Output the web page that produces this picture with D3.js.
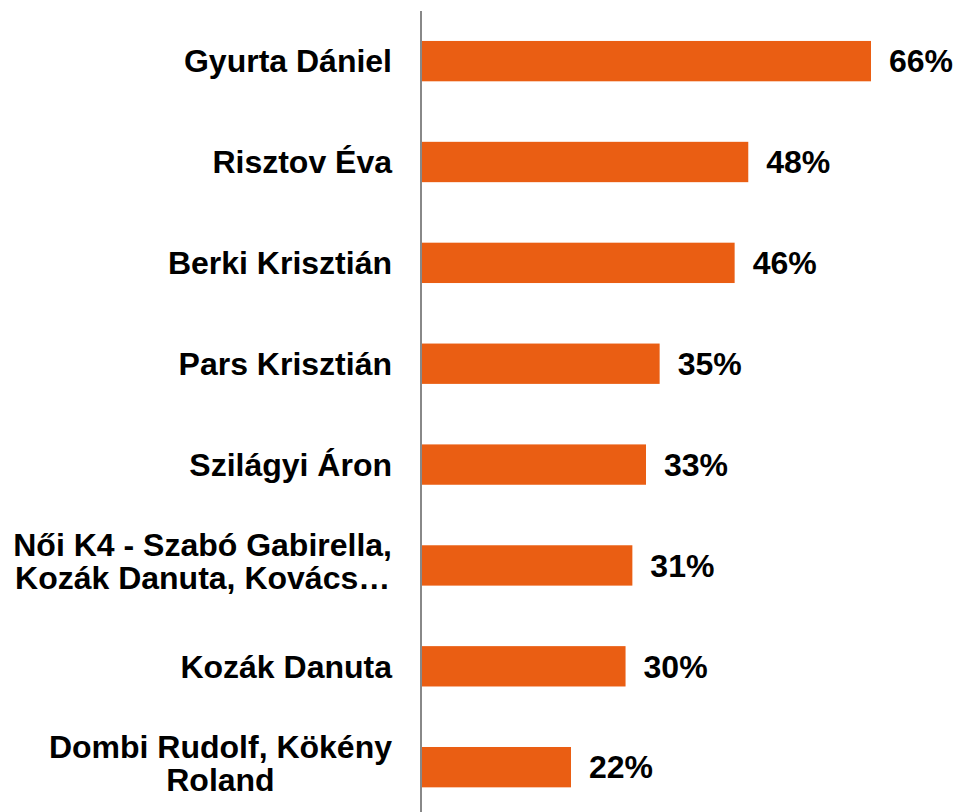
<html>
<head>
<script src="https://d3js.org/d3.v7.min.js"></script>
<style>
body { margin: 0; background: #fff; }
text { font-family: "Liberation Sans", Arial, sans-serif; font-weight: bold; fill: #000; }
</style>
</head>
<body>
<div id="chart"></div>
<script>
var width = 956;
var height = 812;

// data
var names = [
	["Gyurta Dániel"],
	["Risztov Éva"],
	["Berki Krisztián"],
	["Pars Krisztián"],
	["Szilágyi Áron"],
	["Női K4 - Szabó Gabirella,", "Kozák Danuta, Kovács…"],
	["Kozák Danuta"],
	["Dombi Rudolf, Kökény", "Roland"]
];
var values = [66, 48, 46, 35, 33, 31, 30, 22];

var axisX = 421;
var fontSize = 32;

var svg = d3.select("#chart").append("svg")
	.attr("width", width).attr("height", height);

var yScale = d3.scaleBand()
	.domain(d3.range(values.length))
	.range([10.7, 817.6])
	.paddingInner(0.6)
	.paddingOuter(0.3);

var xScale = d3.scaleLinear()
	.domain([0, d3.max(values)])
	.range([axisX, 871]);

svg.selectAll(".bar").data(values)
	.enter().append("rect")
	.attr("class", "bar")
	.attr("x", xScale(0))
	.attr("y", function(d, i) { return yScale(i); })
	.attr("width", function(d) { return xScale(d) - xScale(0); })
	.attr("height", yScale.bandwidth())
	.style("fill", "#EA5E13");

svg.selectAll(".value").data(values)
	.enter().append("text")
	.attr("class", "value")
	.attr("x", function(d) { return xScale(d) + 18; })
	.attr("y", function(d, i) { return yScale(i) + yScale.bandwidth() / 2; })
	.attr("dy", "0.35em")
	.style("font-size", fontSize + "px")
	.text(function(d) { return d + "%"; });

// category labels, right edge 30px left of the axis; wrapped ones are centred
var labelRight = axisX - 29;
var lineGap = 33;
names.forEach(function(lines, i) {
	var cy = yScale(i) + yScale.bandwidth() / 2;
	if (lines.length == 1) {
		svg.append("text")
			.attr("class", "label")
			.style("font-size", fontSize + "px")
			.attr("x", labelRight).attr("y", cy).attr("dy", "0.35em")
			.attr("text-anchor", "end").text(lines[0]);
		return;
	}
	var rows = lines.map(function(s, j) {
		return svg.append("text")
			.attr("class", "label")
			.style("font-size", fontSize + "px")
			.attr("text-anchor", "middle")
			.attr("y", cy - 4 + (j - (lines.length - 1) / 2) * lineGap)
			.attr("dy", "0.35em")
			.text(s);
	});
	var w = d3.max(rows, function(r) { return r.node().getComputedTextLength(); });
	rows.forEach(function(r) { r.attr("x", labelRight - w / 2); });
});

svg.append("line")
	.attr("x1", axisX).attr("x2", axisX)
	.attr("y1", 11).attr("y2", height)
	.style("stroke", "#888")
	.style("stroke-width", 2);
</script>
</body>
</html>
